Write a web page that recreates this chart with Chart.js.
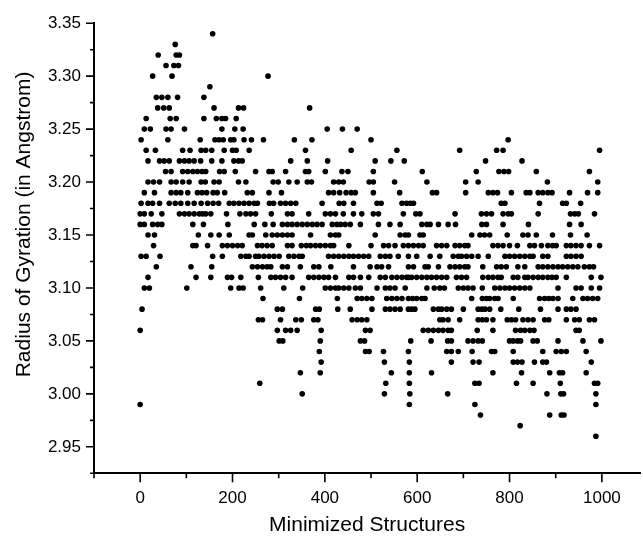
<!DOCTYPE html>
<html>
<head>
<meta charset="utf-8">
<script src="https://cdn.jsdelivr.net/npm/chart.js@4/dist/chart.umd.min.js"></script>
<style>
  html, body { margin: 0; padding: 0; background: #fff; }
  #wrap { width: 643px; height: 538px; }
</style>
</head>
<body>
<div id="wrap"><canvas id="chart"></canvas></div>
<script>
// radius levels (Angstrom) and the structure numbers that sit on each level
const radiusLevels = [
  3.34, 3.33, 3.32, 3.31, 3.30, 3.29, 3.28, 3.27, 3.26, 3.25,
  3.24, 3.23, 3.22, 3.21, 3.20, 3.19, 3.18, 3.17, 3.16, 3.15,
  3.14, 3.13, 3.12, 3.11, 3.10, 3.09, 3.08, 3.07, 3.06, 3.05,
  3.04, 3.03, 3.02, 3.01, 3.00, 2.99, 2.98, 2.97, 2.96
];
const structuresAtLevel = [
  [157],
  [76],
  [39, 78, 85],
  [56, 73, 83],
  [27, 69, 277],
  [151],
  [35, 47, 60, 81, 138],
  [38, 51, 63, 160, 213, 224, 367],
  [13, 65, 78, 138, 165, 177, 185, 208],
  [9, 22, 56, 67, 96, 177, 205, 223, 405, 438, 470],
  [2, 60, 130, 162, 171, 180, 196, 203, 225, 241, 267, 334, 372, 500, 797],
  [13, 33, 92, 108, 132, 142, 155, 182, 200, 208, 236, 358, 457, 556, 692, 772, 786, 995],
  [17, 42, 52, 63, 85, 96, 106, 117, 131, 155, 177, 203, 213, 221, 326, 362, 406, 509, 543, 572, 748, 827],
  [55, 67, 92, 103, 114, 124, 134, 142, 172, 182, 206, 250, 279, 286, 315, 358, 365, 401, 437, 450,
   505, 611, 728, 777, 788, 798, 858, 973],
  [17, 29, 42, 67, 78, 92, 106, 132, 141, 160, 171, 213, 229, 288, 299, 322, 340, 362, 371, 419,
   430, 440, 496, 505, 551, 621, 705, 732, 882, 991],
  [9, 31, 67, 78, 88, 103, 124, 134, 144, 158, 167, 183, 232, 243, 279, 306, 408, 419, 432, 446,
   457, 466, 505, 562, 633, 642, 705, 754, 764, 774, 804, 836, 844, 862, 872, 883, 892, 930, 969, 991],
  [2, 17, 27, 42, 63, 76, 88, 103, 117, 132, 146, 158, 170, 193, 203, 214, 225, 236, 247, 254,
   280, 289, 304, 315, 326, 337, 394, 431, 441, 462, 513, 522, 567, 577, 585, 592, 782, 790, 865, 915,
   923, 954],
  [0, 9, 24, 47, 85, 96, 106, 117, 128, 135, 142, 153, 187, 216, 229, 239, 250, 284, 319, 329,
   365, 401, 412, 423, 440, 462, 480, 505, 516, 570, 597, 606, 682, 739, 750, 761, 786, 797, 804, 862,
   932, 941, 949, 984],
  [0, 9, 27, 38, 47, 114, 137, 190, 247, 270, 288, 308, 319, 329, 340, 351, 362, 373, 383, 394,
   416, 426, 434, 444, 455, 477, 516, 541, 563, 610, 621, 628, 646, 667, 683, 740, 750, 786, 841, 930,
   955],
  [17, 31, 126, 153, 171, 193, 236, 243, 272, 286, 297, 308, 319, 329, 369, 412, 423, 430, 509, 563,
   574, 581, 606, 613, 718, 736, 746, 757, 795, 829, 840, 858, 893, 932, 968],
  [29, 114, 121, 146, 178, 189, 200, 211, 221, 254, 264, 275, 286, 319, 329, 349, 360, 369, 380, 390,
   401, 412, 419, 452, 500, 527, 538, 552, 570, 581, 592, 603, 613, 642, 653, 664, 682, 692, 703, 710,
   764, 775, 786, 800, 817, 844, 854, 869, 883, 893, 901, 923, 933, 944, 955, 973, 995],
  [2, 13, 43, 157, 178, 218, 229, 236, 250, 257, 268, 279, 290, 301, 322, 333, 344, 351, 408, 419,
   430, 441, 452, 462, 473, 484, 495, 520, 531, 541, 559, 581, 599, 628, 649, 678, 689, 696, 707, 718,
   732, 754, 790, 800, 811, 822, 833, 844, 851, 872, 883, 923, 933, 944, 955],
  [35, 110, 155, 243, 254, 265, 275, 283, 308, 319, 347, 376, 387, 413, 462, 498, 513, 523, 538, 581,
   592, 617, 624, 646, 671, 682, 692, 703, 710, 742, 772, 782, 793, 818, 833, 862, 872, 883, 894, 905,
   915, 926, 937, 948, 962, 973, 982],
  [17, 121, 153, 189, 198, 218, 256, 283, 293, 304, 315, 329, 365, 376, 387, 398, 408, 423, 452, 462,
   477, 495, 520, 531, 545, 556, 567, 577, 581, 588, 599, 610, 621, 631, 642, 653, 664, 685, 696, 707,
   742, 754, 764, 775, 782, 808, 818, 833, 840, 851, 862, 872, 883, 892, 901, 923, 977, 998],
  [9, 20, 101, 196, 214, 223, 261, 311, 352, 401, 412, 423, 430, 441, 452, 466, 477, 513, 531, 541,
   552, 574, 621, 637, 649, 659, 689, 700, 710, 721, 741, 768, 779, 790, 800, 811, 822, 833, 844, 905,
   944, 955, 977, 995],
  [266, 345, 427, 470, 480, 491, 502, 534, 545, 556, 567, 581, 590, 599, 610, 617, 718, 741, 750, 757,
   768, 775, 808, 865, 876, 885, 894, 905, 937, 959, 969, 980, 991],
  [4, 297, 308, 380, 388, 428, 455, 502, 531, 541, 552, 563, 581, 588, 595, 635, 646, 653, 664, 674,
   700, 732, 740, 747, 757, 781, 820, 867, 905, 923, 933, 944],
  [256, 265, 304, 337, 349, 376, 385, 459, 470, 480, 491, 649, 656, 667, 692, 732, 741, 750, 764, 795,
   804, 813, 829, 840, 851, 876, 885, 923, 941, 951, 973, 984],
  [0, 297, 315, 326, 340, 392, 488, 498, 613, 624, 635, 646, 656, 667, 674, 730, 764, 813, 824, 833,
   844, 853, 944, 951],
  [301, 309, 390, 477, 486, 586, 630, 666, 674, 710, 721, 732, 741, 800, 808, 817, 824, 851, 860, 905,
   959, 998],
  [388, 488, 496, 527, 581, 664, 674, 689, 719, 761, 768, 808, 872, 901, 912, 923, 966],
  [392, 529, 583, 674, 721, 734, 808, 817, 827, 854, 872, 880, 977],
  [347, 390, 544, 583, 631, 764, 826, 887, 908, 915, 966],
  [259, 532, 583, 725, 734, 815, 851, 910, 984, 991],
  [351, 529, 584, 666, 881, 911, 917, 987],
  [0, 583, 725, 987],
  [737, 887, 912, 918],
  [823],
  [987]
];

const xTicks = [-100, 0, 100, 200, 300, 400, 500, 600, 700, 800, 900, 1000];
const xTickLabels = ['0', '200', '400', '600', '800', '1000'];
const yTicks = [2.925, 2.95, 2.975, 3.0, 3.025, 3.05, 3.075, 3.1, 3.125, 3.15,
                3.175, 3.2, 3.225, 3.25, 3.275, 3.3, 3.325, 3.35];
const yTickLabels = ['2.95', '3.00', '3.05', '3.10', '3.15', '3.20', '3.25', '3.30', '3.35'];
const yTitle = 'Radius of Gyration (in Angstrom)';

const points = [];
radiusLevels.forEach((r, i) => {
  structuresAtLevel[i].forEach(s => points.push({ x: s, y: r }));
});

const fontFamily = '"Liberation Sans", Arial, sans-serif';

function xLabel(v) {
  return xTickLabels.includes(String(v)) ? String(v) : '';
}
function yLabel(v) {
  const hit = yTickLabels.find(l => Math.abs(parseFloat(l) - v) < 1e-6);
  return hit || '';
}

// outward tick marks (long for labelled ticks) and the y title, which sits
// a little above the middle of the axis in the original
const axisExtras = {
  id: 'axisExtras',
  afterDraw(chart) {
    const { ctx, chartArea, scales: { x, y } } = chart;
    ctx.save();
    ctx.strokeStyle = '#000';
    ctx.lineWidth = 1.6;
    ctx.beginPath();
    x.ticks.forEach(t => {
      const px = x.getPixelForValue(t.value);
      const len = xLabel(t.value) ? 9 : 5;
      ctx.moveTo(px, chartArea.bottom);
      ctx.lineTo(px, chartArea.bottom + len);
    });
    y.ticks.forEach(t => {
      const py = y.getPixelForValue(t.value);
      const len = yLabel(t.value) ? 8 : 4;
      ctx.moveTo(chartArea.left, py);
      ctx.lineTo(chartArea.left - len, py);
    });
    ctx.stroke();

    ctx.translate(24, y.getPixelForValue(3.16));
    ctx.rotate(-Math.PI / 2);
    ctx.fillStyle = '#000';
    ctx.font = '21px ' + fontFamily;
    ctx.textAlign = 'center';
    ctx.textBaseline = 'middle';
    ctx.fillText(yTitle, 0, 0);
    ctx.restore();
  }
};

new Chart(document.getElementById('chart'), {
  type: 'scatter',
  data: {
    datasets: [{
      data: points,
      backgroundColor: '#000',
      borderWidth: 0,
      pointRadius: 2.8,
      pointHoverRadius: 2.8
    }]
  },
  options: {
    responsive: true,
    maintainAspectRatio: false,
    animation: false,
    events: [],
    layout: { padding: { top: 22, right: 0, bottom: 0, left: 0 } },
    plugins: { legend: { display: false }, tooltip: { enabled: false } },
    scales: {
      x: {
        type: 'linear',
        min: -100,
        max: 1083,
        afterBuildTicks: s => { s.ticks = xTicks.map(v => ({ value: v })); },
        afterFit: s => { s.height = 64.7; },
        grid: { display: false, drawTicks: false },
        border: { display: true, color: '#000', width: 2 },
        ticks: {
          color: '#000',
          font: { family: fontFamily, size: 17 },
          padding: 15,
          maxRotation: 0,
          autoSkip: false,
          callback: v => xLabel(v)
        },
        title: {
          display: true,
          text: 'Minimized Structures',
          color: '#000',
          font: { family: fontFamily, size: 21 },
          padding: { top: 4, bottom: 0 }
        }
      },
      y: {
        type: 'linear',
        min: 2.925,
        max: 3.35,
        afterBuildTicks: s => { s.ticks = yTicks.map(v => ({ value: v })); },
        afterFit: s => { s.width = 94; },
        grid: { display: false, drawTicks: false },
        border: { display: true, color: '#000', width: 2 },
        ticks: {
          color: '#000',
          font: { family: fontFamily, size: 17 },
          padding: 13,
          autoSkip: false,
          callback: v => yLabel(v)
        }
      }
    }
  },
  plugins: [axisExtras]
});
</script>
</body>
</html>
